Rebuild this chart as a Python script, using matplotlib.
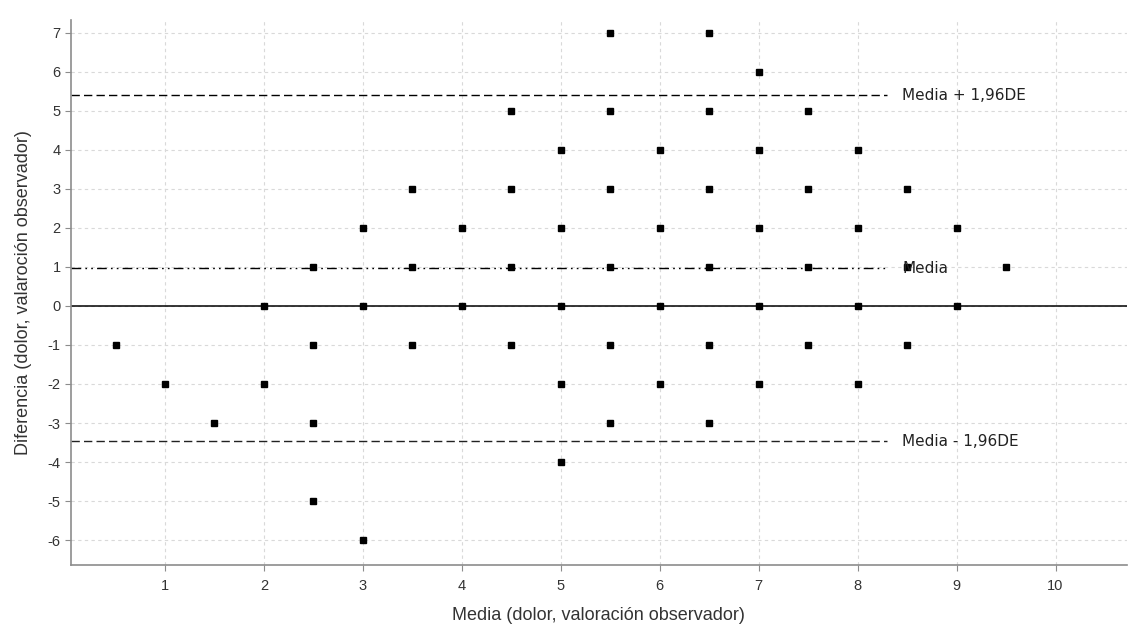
import matplotlib

matplotlib.use("Agg")
import matplotlib.pyplot as plt

plt.rcParams["axes.unicode_minus"] = False
plt.rcParams["font.family"] = ["Liberation Sans", "DejaVu Sans"]

# Bland-Altman data: mean of both ratings vs difference
media = [
    0.5, 1.0, 1.5,
    2.0, 2.0,
    2.5, 2.5, 2.5, 2.5,
    3.0, 3.0, 3.0,
    3.5, 3.5, 3.5,
    4.0, 4.0,
    4.5, 4.5, 4.5, 4.5,
    5.0, 5.0, 5.0, 5.0, 5.0,
    5.5, 5.5, 5.5, 5.5, 5.5, 5.5,
    6.0, 6.0, 6.0, 6.0,
    6.5, 6.5, 6.5, 6.5, 6.5, 6.5,
    7.0, 7.0, 7.0, 7.0, 7.0,
    7.5, 7.5, 7.5, 7.5,
    8.0, 8.0, 8.0, 8.0,
    8.5, 8.5, 8.5,
    9.0, 9.0,
    9.5,
]
diferencia = [
    -1, -2, -3,
    0, -2,
    1, -1, -3, -5,
    2, 0, -6,
    3, 1, -1,
    2, 0,
    5, 3, 1, -1,
    4, 2, 0, -2, -4,
    7, 5, 3, 1, -1, -3,
    4, 2, 0, -2,
    7, 5, 3, 1, -1, -3,
    6, 4, 2, 0, -2,
    5, 3, 1, -1,
    4, 2, 0, -2,
    3, 1, -1,
    2, 0,
    1,
]
mean_diff = 0.97
upper_loa = 5.40
lower_loa = -3.47
line_labels = ["Media + 1,96DE", "Media", "Media - 1,96DE"]
x_ticks = list(range(1, 11))
y_ticks = list(range(-6, 8))

fig = plt.figure(figsize=(11.34, 6.33), dpi=100)
ax = fig.add_axes([0.0626, 0.1074, 0.931, 0.861])

ax.set_xlim(0.05, 10.72)
ax.set_ylim(-6.64, 7.33)
ax.set_xticks(x_ticks)
ax.set_yticks(y_ticks)
ax.grid(True, color="#d9d9d9", linestyle=(0, (3, 3)), linewidth=0.8)
ax.set_axisbelow(True)

for side in ("top", "right"):
    ax.spines[side].set_visible(False)
for side in ("left", "bottom"):
    ax.spines[side].set_color("#8c8c8c")
    ax.spines[side].set_linewidth(1.2)
ax.tick_params(colors="#8c8c8c", labelcolor="#333333", labelsize=10.5, length=4)
ax.tick_params(axis="x", pad=6)

ax.axhline(0, color="black", linewidth=1.1, zorder=2)
x_end = 8.30
ax.plot([0.05, x_end], [upper_loa, upper_loa], color="black", linewidth=1.0,
        dashes=(6, 3), zorder=2)
ax.plot([0.05, x_end], [lower_loa, lower_loa], color="#222222", linewidth=1.0,
        dashes=(6, 3), zorder=2)
ax.plot([0.05, x_end], [mean_diff, mean_diff], color="black", linewidth=1.0,
        dashes=(7, 3, 1.2, 3, 1.2, 3), zorder=2)

for value, text in zip([upper_loa, mean_diff, lower_loa], line_labels):
    ax.text(8.45, value, text, fontsize=11, va="center", ha="left",
            color="#222222", family="DejaVu Sans", zorder=4)

ax.plot(media, diferencia, linestyle="none", marker="s", markersize=5,
        color="black", zorder=3)

ax.set_xlabel("Media (dolor, valoración observador)", fontsize=13,
              color="#333333", labelpad=10)
ax.set_ylabel("Diferencia (dolor, valaroción observador)", fontsize=13,
              color="#333333", labelpad=11)

fig.savefig("out.png", dpi=100)
